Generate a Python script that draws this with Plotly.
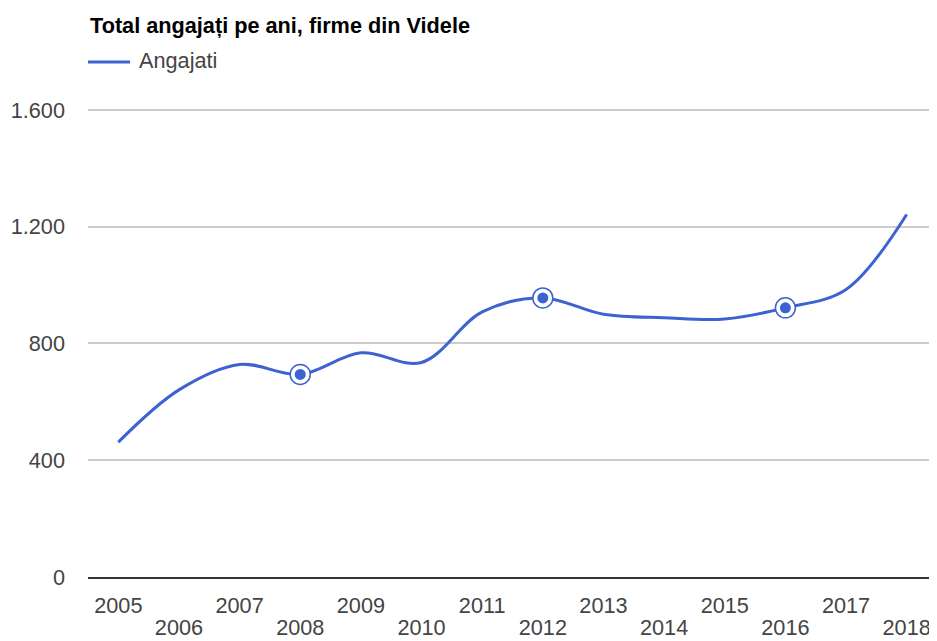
import plotly.graph_objects as go

years = ["2005", "2006", "2007", "2008", "2009", "2010", "2011", "2012", "2013", "2014", "2015", "2016", "2017", "2018"]
angajati = [462, 641, 728, 694, 768, 735, 908, 956, 900, 888, 884, 922, 985, 1242]
highlight_years = ["2008", "2012", "2016"]
y_ticks = [0, 400, 800, 1200, 1600]
y_tick_labels = ["0", "400", "800", "1.200", "1.600"]
series_name = "Angajati"
title_text = "Total angajați pe ani, firme din Videle"

LINE = "#3d62d2"
FONT = "Liberation Sans, Arial, sans-serif"
FS = 21.7

W, H = 929, 633
ML, MR, MT, MB = 80, 0, 99, 64
PW, PH = W - ML - MR, H - MT - MB


def px_x(x):  # figure px -> paper
    return (x - ML) / PW


def px_y(y):  # figure px (from top) -> paper
    return 1 - (y - MT) / PH


x_idx = list(range(len(years)))
hl_idx = [years.index(y) for y in highlight_years]
hl_vals = [angajati[i] for i in hl_idx]
row1_idx = x_idx[0::2]
row2_idx = x_idx[1::2]

fig = go.Figure()
# invisible carrier trace so the second-row label axis is rendered
fig.add_trace(go.Scatter(
    x=x_idx, y=angajati, xaxis="x2", mode="lines", showlegend=False,
    hoverinfo="skip", opacity=0, line=dict(width=0),
))
fig.add_trace(go.Scatter(
    x=x_idx, y=angajati, mode="lines", name=series_name,
    line=dict(color=LINE, width=3, shape="spline", smoothing=1.0),
))
fig.add_trace(go.Scatter(
    x=hl_idx, y=hl_vals, mode="markers", showlegend=False,
    marker=dict(size=20, color="white", line=dict(color=LINE, width=1.5)),
))
fig.add_trace(go.Scatter(
    x=hl_idx, y=hl_vals, mode="markers", showlegend=False,
    marker=dict(size=11, color=LINE, line=dict(width=0)),
))

fig.update_layout(
    width=W, height=H,
    margin=dict(l=ML, r=MR, t=MT, b=MB),
    paper_bgcolor="white", plot_bgcolor="white",
    font=dict(family=FONT, size=FS, color="#444"),
    showlegend=False,
    shapes=[dict(type="line", xref="paper", yref="paper",
                 x0=px_x(80), x1=px_x(122), y0=px_y(54), y1=px_y(54),
                 line=dict(color=LINE, width=3))],
    annotations=[
        dict(text="<b>" + title_text + "</b>",
             xref="paper", yref="paper", x=px_x(80), y=px_y(17),
             xanchor="left", yanchor="middle", showarrow=False,
             font=dict(size=FS, color="#000", family=FONT)),
        dict(text=series_name,
             xref="paper", yref="paper", x=px_x(129), y=px_y(53),
             xanchor="left", yanchor="middle", showarrow=False,
             font=dict(size=FS, color="#444", family=FONT)),
    ],
    xaxis=dict(
        range=[-0.5, 13.5], tickmode="array", tickvals=row1_idx,
        ticktext=[years[i] for i in row1_idx],
        showgrid=False, zeroline=False, showline=True, linecolor="#333", linewidth=1.5,
        ticks="", tickfont=dict(size=FS, color="#444"), ticklabelstandoff=8,
        automargin=False,
    ),
    xaxis2=dict(
        range=[-0.5, 13.5], overlaying="x", anchor="y", side="bottom",
        tickmode="array", tickvals=row2_idx, ticktext=[years[i] for i in row2_idx],
        showgrid=False, zeroline=False, showline=False,
        ticks="", tickfont=dict(size=FS, color="#444"), ticklabelstandoff=35,
        automargin=False,
    ),
    yaxis=dict(
        range=[0, 1610], tickmode="array", tickvals=y_ticks, ticktext=y_tick_labels,
        showgrid=True, gridcolor="#cccccc", gridwidth=1.5, zeroline=False,
        showline=False, ticks="", tickfont=dict(size=FS, color="#444"),
        ticklabelstandoff=22, automargin=False,
    ),
)

fig.write_html("out.html")
